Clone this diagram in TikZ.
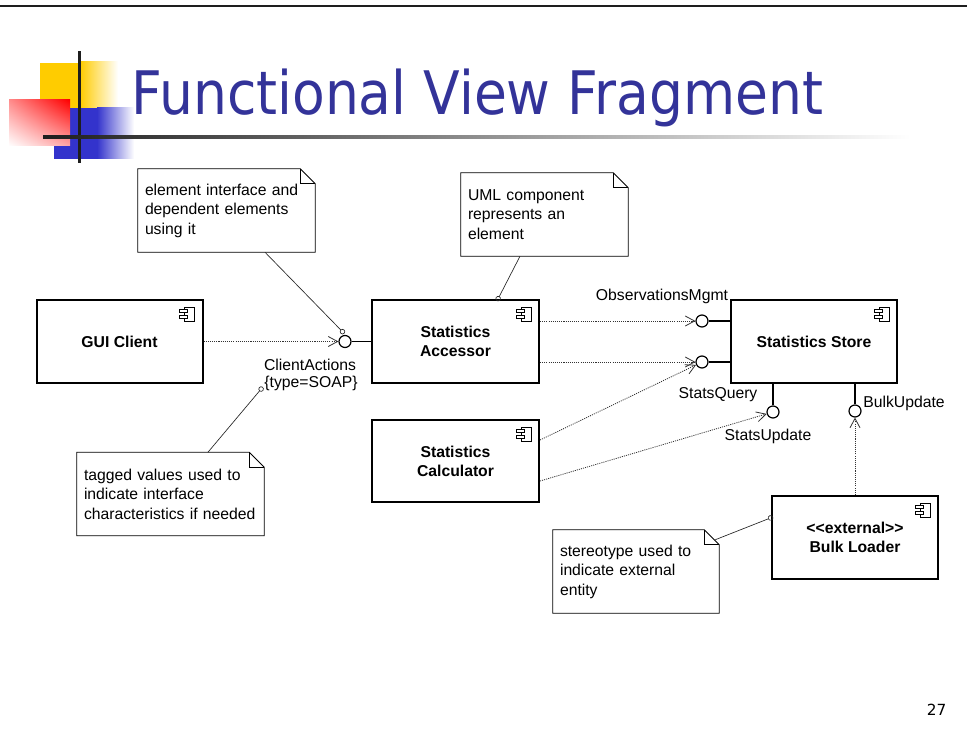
\documentclass[tikz,border=0pt]{standalone}
\usepackage{fontspec}
\setmainfont{Liberation Sans}
\newfontfamily\TitleFont[FakeStretch=0.892]{DejaVu Sans}
\newfontfamily\PageFont{DejaVu Sans}
\usepackage{xcolor}
\definecolor{TitleBlue}{RGB}{51,51,153}
\definecolor{SqYellow}{RGB}{255,204,0}
\definecolor{SqBlue}{RGB}{51,51,204}
\definecolor{SqRed}{RGB}{255,0,0}
\definecolor{Bar}{RGB}{30,30,30}
\usepackage{tikz}
\usetikzlibrary{arrows.meta}
\usetikzlibrary{shadings}
\tikzstyle{Txt}=[font=\fontsize{11.8pt}{14.6pt}\selectfont,inner sep=0pt]
\tikzstyle{Comp}=[rectangle,draw,line width=1.5pt,fill=white,
minimum width=124.5pt,minimum height=62.25pt,align=center,
font=\bfseries\fontsize{11.8pt}{14.25pt}\selectfont]
\tikzstyle{Note}=[rectangle,inner xsep=5.25pt,inner ysep=0pt,align=left,
minimum height=62.25pt,font=\fontsize{11.8pt}{14.6pt}\selectfont]
\tikzstyle{NoteLine}=[draw,line width=0.6pt]
\tikzstyle{Port}=[circle,draw,line width=0.9pt,fill=white,inner sep=0pt,
minimum size=9pt]
\tikzstyle{Link}=[draw,line width=0.8pt]
\tikzstyle{Dep}=[draw,black!80,line width=0.6pt,dash pattern=on 0.8pt off 0.8pt,
-{Straight Barb[length=7pt,width=7.5pt,line width=0.6pt]}]
\tikzstyle{Anchor}=[draw,black!85,line width=0.5pt,
-{Circle[open,length=4pt,width=4pt,line width=0.5pt]}]
\tikzstyle{Icon}=[draw,line width=0.6pt,fill=white]
% component icon in the upper right corner
\newcommand{\CompIcon}[1]{%
  \draw[Icon]([xshift=-14.25pt,yshift=-6pt]#1.north east)
    rectangle([xshift=-6.75pt,yshift=-16.5pt]#1.north east);
  \draw[Icon]([xshift=-18pt,yshift=-7.5pt]#1.north east)
    rectangle([xshift=-12pt,yshift=-9.75pt]#1.north east);
  \draw[Icon]([xshift=-18pt,yshift=-12pt]#1.north east)
    rectangle([xshift=-12pt,yshift=-14.25pt]#1.north east);}
% note outline with folded corner
\newcommand{\NoteBox}[1]{%
  \draw[NoteLine](#1.north west)--([xshift=-11.25pt]#1.north east)
    --([yshift=-11.25pt]#1.north east)--(#1.south east)
    --(#1.south west)--cycle;
  \draw[NoteLine]([xshift=-11.25pt]#1.north east)
    --([xshift=-11.25pt,yshift=-11.25pt]#1.north east)
    --([yshift=-11.25pt]#1.north east);}

\begin{document}
\begin{tikzpicture}[x=0.75pt,y=-0.75pt]
    \useasboundingbox(0,0)rectangle(967,738);
    % slide decoration
    \fill[Bar](0,4.8)rectangle(967,7.4);
    \fill[SqYellow](40,63)rectangle(80,108);
    \shade[left color=SqYellow,right color=white](80,62)rectangle(118,108);
    \fill[SqBlue](54,108)rectangle(97,159);
    \shade[left color=SqBlue,right color=white](97,108)rectangle(134,159);
    \shade[upper right=SqRed,upper left=SqRed!45,lower right=SqRed!35,
        lower left=white](9,100)rectangle(70,146);
    \fill[Bar](77.5,51)rectangle(81,163);
    \shade[left color=Bar,right color=white](43,135.3)rectangle(910,139);
    \node[anchor=base west,inner sep=0pt,text=TitleBlue,
        font=\TitleFont\fontsize{45pt}{50pt}\selectfont](title)at(131,115)
        {Functional View Fragment};
    % components
    \node[Comp](gui)at(119.5,341.5){GUI Client};
    \node[Comp,minimum width=125.25pt](acc)at(455.5,341.5){Statistics\\Accessor};
    \node[Comp](store)at(814,341.5){Statistics Store};
    \node[Comp,minimum width=125.25pt,minimum height=61.5pt](calc)at(455.5,461)
        {Statistics\\Calculator};
    \node[Comp](bulk)at(855,537.5)
        {<\kern0pt<external>\kern0pt>\\Bulk Loader};
    \CompIcon{gui}
    \CompIcon{acc}
    \CompIcon{store}
    \CompIcon{calc}
    \CompIcon{bulk}
    % interfaces
    \node[Port](ca)at(345,341.5){};
    \node[Port](om)at(702,321){};
    \node[Port](sq)at(702,362){};
    \node[Port](su)at(773,412){};
    \node[Port](bu)at(855,411){};
    \draw[Link](ca.east)--(ca.east-|acc.west);
    \draw[Link](om.east)--(om.east-|store.west);
    \draw[Link](sq.east)--(sq.east-|store.west);
    \draw[Link](su.north)--(su.north|-store.south);
    \draw[Link](bu.north)--(bu.north|-store.south);
    % dependencies
    \draw[Dep](gui.east)--(ca.west);
    \draw[Dep](acc.east|-om.west)--(om.west);
    \draw[Dep](acc.east|-sq.west)--(sq.west);
    \draw[Dep]([yshift=15.75pt]calc.east)--(sq);
    \draw[Dep]([yshift=-15pt]calc.east)--(su);
    \draw[Dep](bulk.north)--(bu.south);
    % interface labels
    \node[Txt](cal)at(310,365){ClientActions};
    \node[Txt](ctype)at(311,383){\{type=SOAP\}};
    \node[Txt](oml)at(662,296){ObservationsMgmt};
    \node[Txt](sql)at(718,395){StatsQuery};
    \node[Txt](sul)at(768,436){StatsUpdate};
    \node[Txt](bul)at(904,403){BulkUpdate};
    % notes
    \node[Note,text width=122.25pt](n1)at(226.5,210.5)
        {element interface and\\dependent elements\\using it};
    \node[Note,text width=114.75pt](n2)at(544.5,214.5)
        {UML component\\represents an\\element};
    \node[Note,text width=129.75pt](n3)at(170.5,494)
        {tagged values used to\\indicate interface\\characteristics if needed};
    \node[Note,text width=114pt](n4)at(636,571.5)
        {stereotype used to\\indicate external\\entity};
    \NoteBox{n1}
    \NoteBox{n2}
    \NoteBox{n3}
    \NoteBox{n4}
    \draw[Anchor]([xshift=28.9pt]n1.south)--([xshift=-0.5pt,yshift=1pt]ca.north);
    \draw[Anchor]([xshift=-18.4pt]n2.south)--([xshift=31.1pt,yshift=-1.5pt]acc.north);
    \draw[Anchor]([xshift=28.1pt]n3.north)--([xshift=-1pt,yshift=-3pt]ctype.west);
    \draw[Anchor]([xshift=-3pt,yshift=-7.5pt]n4.north east)
        --([xshift=1.5pt,yshift=15.4pt]bulk.west);
    \node[font=\PageFont\fontsize{11.5pt}{12pt}\selectfont,inner sep=0pt](page)
        at(936.5,710){27};
\end{tikzpicture}
\end{document}
